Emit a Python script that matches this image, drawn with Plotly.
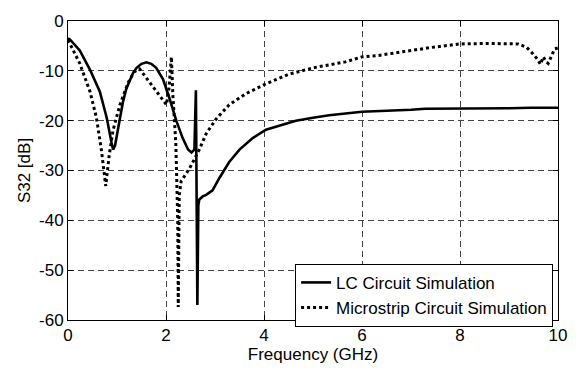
import plotly.graph_objects as go

# LC Circuit Simulation (solid)
lc_freq = [0.0, 0.04, 0.24, 0.45, 0.65, 0.79, 0.89, 0.92, 0.96, 1.02, 1.06, 1.12, 1.19, 1.26, 1.33, 1.40, 1.50, 1.60,
           1.70, 1.80, 1.94, 2.07, 2.21, 2.34, 2.45, 2.52, 2.58, 2.61, 2.64, 2.66, 2.68, 2.75,
           2.82, 2.95, 3.09, 3.29, 3.50, 3.77, 4.04, 4.31, 4.65, 5.0, 5.33, 6.0, 6.34, 7.0,
           7.29, 8.0, 9.0, 9.45, 10.0]
lc_db = [-3.5, -3.7, -5.9, -9.8, -14.2, -19.4, -24.5, -25.8, -25.0, -21.5, -19.0, -16.3, -13.6, -11.8, -10.4, -9.4, -8.6, -8.3,
         -8.6, -9.4, -11.7, -15.5, -20.0, -23.5, -25.8, -26.4, -25.8, -13.9, -57.0, -37.0, -35.8, -35.2,
         -34.9, -34.0, -31.5, -28.3, -25.8, -23.5, -21.8, -21.0, -20.0, -19.4, -18.9, -18.2, -18.1, -17.8,
         -17.6, -17.6, -17.5, -17.4, -17.4]

# Microstrip Circuit Simulation (dotted)
ms_freq = [0.0, 0.04, 0.24, 0.45, 0.58, 0.68, 0.75, 0.77, 0.80, 0.84, 0.92, 1.06, 1.23, 1.35, 1.46,
           1.67, 1.87, 2.01, 2.06, 2.11, 2.14, 2.20, 2.24, 2.25, 2.27, 2.31, 2.40, 2.48, 2.68,
           2.82, 3.02, 3.29, 3.63, 4.04, 4.5, 5.0, 5.66, 6.0, 6.34, 7.02, 7.42, 8.0, 8.58,
           9.19, 9.36, 9.49, 9.59, 9.64, 9.70, 9.76, 9.80, 9.93, 10.0]
ms_db = [-3.8, -4.6, -8.5, -14.2, -19.4, -25.8, -30.9, -33.1, -30.5, -27.0, -21.9, -16.8, -12.3, -10.2, -9.6,
         -12.3, -14.9, -16.8, -13.6, -7.2, -14.9, -24.4, -40.0, -57.4, -35.0, -32.1, -30.8, -29.6, -25.8,
         -22.6, -19.7, -16.8, -14.6, -12.6, -10.7, -9.4, -8.2, -7.2, -6.9, -5.8, -5.3, -4.6, -4.5,
         -4.6, -5.3, -6.6, -7.8, -8.7, -7.2, -8.2, -8.5, -5.6, -5.4]

x_ticks = [0, 2, 4, 6, 8, 10]
x_ticktext = ["0", "2", "4", "6", "8", "10"]
y_ticks = [0, -10, -20, -30, -40, -50, -60]
y_ticktext = ["0", "-10", "-20", "-30", "-40", "-50", "-60"]

font_family = "Liberation Sans, Arial, sans-serif"
fs = 17

fig = go.Figure()
fig.add_trace(go.Scatter(x=lc_freq, y=lc_db, mode="lines", name="LC Circuit Simulation",
                         line=dict(color="black", width=2.6, dash="solid")))
fig.add_trace(go.Scatter(x=ms_freq, y=ms_db, mode="lines", name="Microstrip Circuit Simulation",
                         line=dict(color="black", width=3, dash="dot")))

axis_common = dict(
    showline=True, linecolor="black", linewidth=1, mirror="ticks",
    ticks="inside", ticklen=5, tickcolor="black",
    showgrid=True, gridcolor="#444444", gridwidth=1, griddash="6px,4px",
    zeroline=False, tickfont=dict(family=font_family, size=fs, color="black"),
)

fig.update_xaxes(range=[0, 10], tickvals=x_ticks, ticktext=x_ticktext,
                 title=dict(text="Frequency (GHz)", font=dict(family=font_family, size=fs, color="black"),
                            standoff=0),
                 **axis_common)
fig.update_yaxes(range=[-60, 0], tickvals=y_ticks, ticktext=y_ticktext,
                 title=dict(text="S32 [dB]", font=dict(family=font_family, size=fs, color="black"),
                            standoff=4),
                 **axis_common)

fig.update_layout(
    width=579, height=369,
    margin=dict(l=68, r=18, t=16, b=41),
    plot_bgcolor="white", paper_bgcolor="white",
    showlegend=True,
    legend=dict(x=0.99, y=-0.023, xanchor="right", yanchor="bottom",
                bgcolor="white", bordercolor="black", borderwidth=1,
                font=dict(family=font_family, size=fs, color="black"),
                tracegroupgap=0, itemwidth=30),
)

fig.write_html("out.html")
